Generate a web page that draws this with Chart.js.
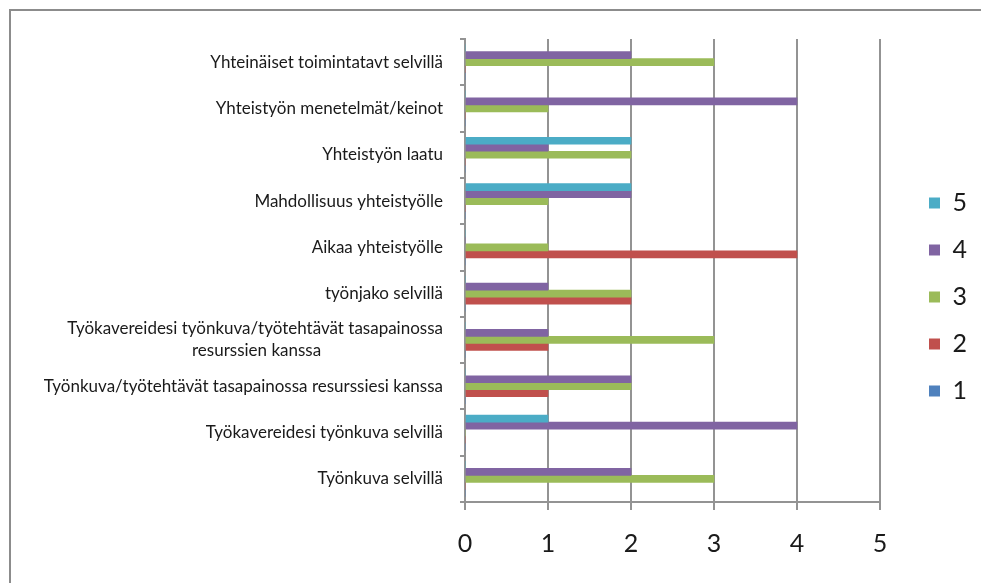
<!DOCTYPE html>
<html lang="fi">
<head>
<meta charset="utf-8">
<title>Yhteistyö ja työnkuva</title>
<script src="https://cdn.jsdelivr.net/npm/chart.js@4.4.1/dist/chart.umd.min.js"></script>
<style>
  html, body { margin: 0; padding: 0; background: #ffffff; overflow: hidden; }
  #chart { display: block; }
</style>
</head>
<body>
<canvas id="chart" width="981" height="583"></canvas>
<script>
// Survey statements, listed top to bottom
const categories = [
  'Yhteinäiset toimintatavt selvillä',
  'Yhteistyön menetelmät/keinot',
  'Yhteistyön laatu',
  'Mahdollisuus yhteistyölle',
  'Aikaa yhteistyölle',
  'työnjako selvillä',
  ['Työkavereidesi työnkuva/työtehtävät tasapainossa', 'resurssien kanssa'],
  'Työnkuva/työtehtävät tasapainossa resurssiesi kanssa',
  'Työkavereidesi työnkuva selvillä',
  'Työnkuva selvillä'
];

// Number of answers per rating (1–5) for each statement
const rating5 = [0, 0, 2, 2, 0, 0, 0, 0, 1, 0];
const rating4 = [2, 4, 1, 2, 0, 1, 1, 2, 4, 2];
const rating3 = [3, 1, 2, 1, 1, 2, 3, 2, 0, 3];
const rating2 = [0, 0, 0, 0, 4, 2, 1, 1, 0, 0];
const rating1 = [0, 0, 0, 0, 0, 0, 0, 0, 0, 0];

const xTicks = [0, 1, 2, 3, 4, 5];

const LABEL_FONT = { family: 'Lato, "Open Sans", sans-serif', size: 17, lineHeight: 1.3 };
const BIG_FONT = { family: 'Lato, "Open Sans", sans-serif', size: 25 };
const GRID = '#939393';

// Center the second line of a two-line tick label under the first one
// (tick labels are right aligned, so pad the short line with spaces).
function centerSecondLine(lines) {
  const c = document.createElement('canvas').getContext('2d');
  c.font = LABEL_FONT.size + 'px ' + LABEL_FONT.family;
  const w1 = c.measureText(lines[0]).width;
  const w2 = c.measureText(lines[1]).width;
  const sp = c.measureText(' ').width;
  const n = Math.max(0, Math.round((w1 - w2) / 2 / sp));
  return [lines[0], lines[1] + ' '.repeat(n)];
}
const yLabels = categories.map(l => Array.isArray(l) ? centerSecondLine(l) : l);

// Keeps the legend column at a fixed width and nudges it right of the plot.
const legendPlacement = {
  id: 'legendPlacement',
  beforeLayout(chart) {
    const lg = chart.legend;
    if (lg && !lg._fixedWidth) {
      const fit = lg.fit.bind(lg);
      lg.fit = function () { fit(); this.width = 101; };
      lg._fixedWidth = true;
    }
  },
  afterLayout(chart) {
    const lg = chart.legend;
    if (lg) { lg.left += 27; lg.right += 27; }
  }
};

// Outer chart frame: a grey line along the top and left edges.
const chartFrame = {
  id: 'chartFrame',
  beforeDraw(chart) {
    const ctx = chart.ctx;
    ctx.save();
    ctx.strokeStyle = '#8c8c8c';
    ctx.lineWidth = 2;
    ctx.beginPath();
    ctx.moveTo(10, chart.height + 5);
    ctx.lineTo(10, 10);
    ctx.lineTo(chart.width + 5, 10);
    ctx.stroke();
    ctx.restore();
  }
};

new Chart(document.getElementById('chart'), {
  type: 'bar',
  data: {
    labels: yLabels,
    datasets: [
      { label: '5', data: rating5, backgroundColor: '#4BACC6' },
      { label: '4', data: rating4, backgroundColor: '#8064A2' },
      { label: '3', data: rating3, backgroundColor: '#9BBB59' },
      { label: '2', data: rating2, backgroundColor: '#C0504D' },
      { label: '1', data: rating1, backgroundColor: '#4F81BD' }
    ]
  },
  options: {
    indexAxis: 'y',
    responsive: false,
    animation: false,
    devicePixelRatio: 1,
    layout: { padding: { top: 39, bottom: 28, left: 0, right: 0 } },
    datasets: { bar: { barThickness: 7, borderWidth: 0 } },
    scales: {
      x: {
        min: 0,
        max: 5,
        afterBuildTicks(scale) { scale.ticks = xTicks.map(v => ({ value: v })); },
        afterFit(scale) { scale.height = 53; },
        grid: { color: GRID, lineWidth: 2, tickLength: 8, drawOnChartArea: true },
        border: { color: GRID, width: 2 },
        ticks: { font: BIG_FONT, color: '#1a1a1a', padding: 19, maxRotation: 0 }
      },
      y: {
        afterFit(scale) { scale.width = 465; },
        grid: { color: GRID, lineWidth: 2, tickLength: 5, drawOnChartArea: false, offset: true },
        border: { color: GRID, width: 2 },
        ticks: { font: LABEL_FONT, color: '#1a1a1a', padding: 17, autoSkip: false }
      }
    },
    plugins: {
      legend: {
        position: 'right',
        labels: {
          boxWidth: 11,
          boxHeight: 11,
          padding: 22,
          font: BIG_FONT,
          color: '#1a1a1a'
        }
      },
      tooltip: { enabled: false }
    }
  },
  plugins: [legendPlacement, chartFrame]
});
</script>
</body>
</html>
